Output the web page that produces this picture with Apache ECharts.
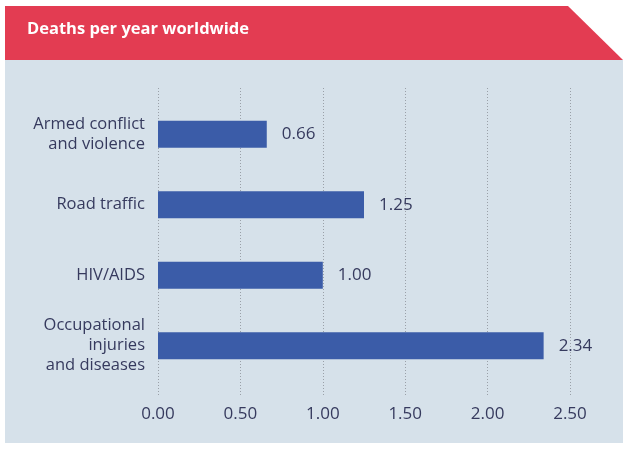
<!DOCTYPE html>
<html><head><meta charset="utf-8">
<script src="https://cdn.jsdelivr.net/npm/echarts@6/dist/echarts.min.js"></script>
<style>html,body{margin:0;padding:0;background:#fff}#c{width:630px;height:451px}</style>
</head><body><div id="c"></div>
<script>
const title = 'Deaths per year worldwide';
const categories = ['Armed conflict\nand violence', 'Road traffic', 'HIV/AIDS', 'Occupational\ninjuries\nand diseases'];
const values = [0.66, 1.25, 1.00, 2.34];
const tickMin = 0, tickMax = 2.5, tickStep = 0.5;

const chart = echarts.init(document.getElementById('c'));
const font = '"Open Sans", "Noto Sans", sans-serif';
chart.setOption({
  backgroundColor: '#ffffff',
  animation: false,
  graphic: [
    { type: 'rect', z: -10, shape: { x: 5, y: 60, width: 618, height: 383 }, style: { fill: '#d6e1ea' } },
    { type: 'polygon', z: -10, shape: { points: [[5, 6], [568, 6], [623, 60], [5, 60]] }, style: { fill: '#e33c52' } },
    { type: 'text', left: 27, top: 21, style: { text: title, fill: '#ffffff', font: 'bold 16.5px ' + font } }
  ],
  grid: [
    { left: 158, right: 60, top: 88, bottom: 54 },
    { left: 158, right: 60, top: 99, bottom: 70 }
  ],
  xAxis: [
    { type: 'value', gridIndex: 0, min: tickMin, max: tickMax, interval: tickStep,
      axisLine: { show: false }, axisTick: { show: false },
      axisLabel: { formatter: v => v.toFixed(2), color: '#363a5e', fontSize: 17, fontFamily: font, margin: 9 },
      splitLine: { show: true, lineStyle: { color: '#9aa0a8', type: [1, 2], width: 1 } } },
    { type: 'value', gridIndex: 1, min: tickMin, max: tickMax, interval: tickStep, show: false,
      splitLine: { show: false } }
  ],
  yAxis: [
    { type: 'value', gridIndex: 0, show: false, splitLine: { show: false } },
    { type: 'category', gridIndex: 1, data: categories, inverse: true,
      axisLine: { show: false }, axisTick: { show: false },
      axisLabel: { color: '#363a5e', fontSize: 16.5, fontFamily: font, margin: 13, lineHeight: 20, align: 'right' } }
  ],
  series: [{
    type: 'bar', xAxisIndex: 1, yAxisIndex: 1, data: values, barWidth: 27,
    itemStyle: { color: '#3b5ca8' },
    label: { show: true, position: 'right', distance: 15, formatter: p => p.value.toFixed(2),
      color: '#363a5e', fontSize: 17, fontFamily: font }
  }]
});
</script></body></html>
